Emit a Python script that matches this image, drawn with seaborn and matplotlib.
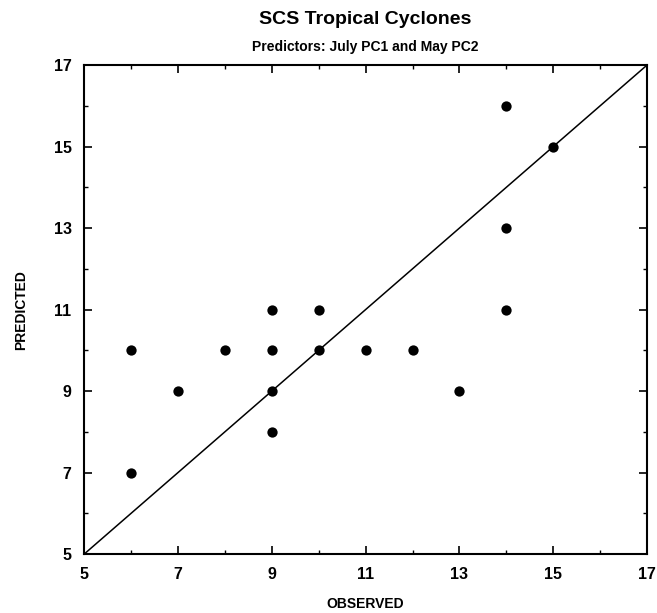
import numpy as np
import pandas as pd
import matplotlib
matplotlib.use("Agg")
import matplotlib.pyplot as plt
import seaborn as sns
from matplotlib.ticker import MultipleLocator

# === dati ===
observed = [6, 6, 7, 8, 9, 9, 9, 9, 10, 10, 11, 12, 13, 14, 14, 14, 15]
predicted = [10, 7, 9, 10, 11, 10, 9, 8, 11, 10, 10, 10, 9, 16, 13, 11, 15]
line_x = [5, 17]
line_y = [5, 17]
ticks = [5, 7, 9, 11, 13, 15, 17]

df = pd.DataFrame({"OBSERVED": observed, "PREDICTED": predicted})
line_df = pd.DataFrame({"x": line_x, "y": line_y})

sns.set_style("ticks")
plt.rcParams['font.family'] = ['Liberation Sans', 'DejaVu Sans']
plt.rcParams['font.weight'] = 'bold'
plt.rcParams['text.color'] = 'black'
plt.rcParams['axes.labelcolor'] = 'black'
plt.rcParams['xtick.color'] = 'black'
plt.rcParams['ytick.color'] = 'black'

fig = plt.figure(figsize=(6.57, 6.13), dpi=100)
ax = fig.add_axes([0.128, 0.096, 0.857, 0.798])

sns.lineplot(data=line_df, x="x", y="y", color="black", linewidth=1.1, ax=ax)
sns.scatterplot(data=df, x="OBSERVED", y="PREDICTED", color="black", s=55,
                edgecolor="black", linewidth=0, ax=ax, zorder=3)

ax.set_xlim(5, 17)
ax.set_ylim(5, 17)
ax.set_xticks(ticks)
ax.set_yticks(ticks)
ax.xaxis.set_minor_locator(MultipleLocator(1))
ax.yaxis.set_minor_locator(MultipleLocator(1))
ax.tick_params(which="major", direction="in", length=6, width=1.2, labelsize=11.5,
               top=True, right=True, pad=9)
ax.tick_params(which="minor", direction="in", length=3, width=1, top=True, right=True)
for lab in ax.get_xticklabels() + ax.get_yticklabels():
    lab.set_fontweight("bold")
for s in ax.spines.values():
    s.set_linewidth(1.5)
    s.set_color("black")

ax.set_xlabel("OBSERVED", fontsize=10, fontweight="bold", labelpad=11)
ax.set_ylabel("PREDICTED", fontsize=10, fontweight="bold", labelpad=18)

fig.text(0.556, 0.968, "SCS Tropical Cyclones", ha="center", va="center",
         fontsize=14, fontweight="bold")
fig.text(0.556, 0.924, "Predictors: July PC1 and May PC2", ha="center", va="center",
         fontsize=10, fontweight="bold")

plt.savefig("out.png", dpi=100)
